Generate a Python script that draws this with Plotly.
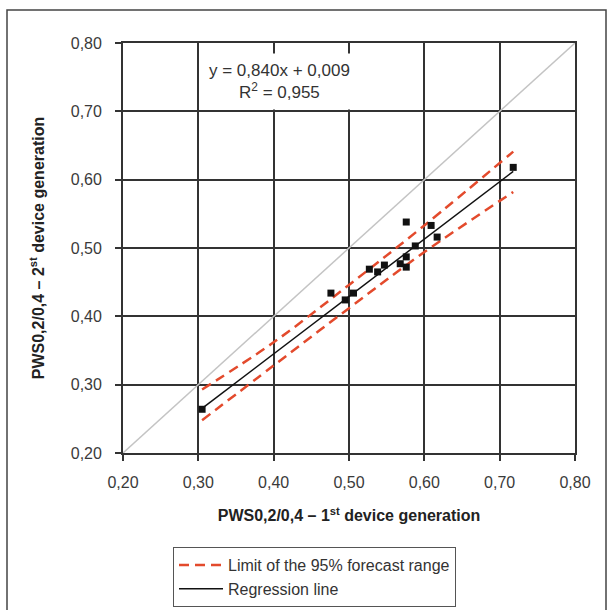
import plotly.graph_objects as go

# ---- data ----
meas_x = [0.305, 0.476, 0.495, 0.506, 0.527, 0.538, 0.547, 0.568, 0.576, 0.576, 0.576, 0.588, 0.609, 0.617, 0.718]
meas_y = [0.264, 0.434, 0.424, 0.434, 0.469, 0.465, 0.475, 0.477, 0.472, 0.487, 0.538, 0.503, 0.533, 0.516, 0.618]

reg_x = [0.305, 0.718]
slope = 0.840
intercept = 0.009
reg_y = [slope * v + intercept for v in reg_x]

lim_x = [0.305, 0.40, 0.50, 0.60, 0.718]
lim_upper = [0.293, 0.362, 0.446, 0.533, 0.641]
lim_lower = [0.248, 0.328, 0.412, 0.494, 0.582]

diag = [0.20, 0.80]

tick_vals = [0.20, 0.30, 0.40, 0.50, 0.60, 0.70, 0.80]
tick_text = ["0,20", "0,30", "0,40", "0,50", "0,60", "0,70", "0,80"]

RED = "#E34A2C"
FONT = "Liberation Sans, Arial, sans-serif"

fig = go.Figure()

fig.add_trace(go.Scatter(x=diag, y=diag, mode="lines",
                         line=dict(color="#c4c4c4", width=1.5),
                         showlegend=False, hoverinfo="skip"))

fig.add_trace(go.Scatter(x=lim_x, y=lim_upper, mode="lines",
                         line=dict(color=RED, width=2.5, dash="10px,6px", shape="spline"),
                         name="Limit of the 95% forecast range", legendgroup="lim"))
fig.add_trace(go.Scatter(x=lim_x, y=lim_lower, mode="lines",
                         line=dict(color=RED, width=2.5, dash="10px,6px", shape="spline"),
                         name="Limit of the 95% forecast range", legendgroup="lim",
                         showlegend=False))

fig.add_trace(go.Scatter(x=reg_x, y=reg_y, mode="lines",
                         line=dict(color="#111111", width=1.5),
                         name="Regression line"))

fig.add_trace(go.Scatter(x=meas_x, y=meas_y, mode="markers",
                         marker=dict(symbol="square", size=7, color="#111111"),
                         showlegend=False))

axis_common = dict(
    tickvals=tick_vals, ticktext=tick_text,
    showgrid=True, gridcolor="#333333", gridwidth=1.8,
    showline=True, linecolor="#333333", linewidth=1.8, mirror=True,
    ticks="outside", ticklen=6, tickcolor="#333333", tickwidth=1.8,
    zeroline=False, automargin=False,
    tickfont=dict(family=FONT, size=16, color="#3a3a3a"),
)

fig.update_xaxes(range=[0.20, 0.80], **axis_common, ticklabelstandoff=8,
                 title=dict(text="<b>PWS0,2/0,4 – 1<sup>st</sup> device generation</b>",
                            font=dict(family=FONT, size=16, color="#222222"),
                            standoff=20))
fig.update_yaxes(range=[0.20, 0.80], **axis_common, ticklabelstandoff=10,
                 title=dict(text="<b>PWS0,2/0,4 – 2<sup>st</sup> device generation</b>",
                            font=dict(family=FONT, size=16, color="#222222"),
                            standoff=22))

fig.add_annotation(x=0.408, y=0.743, xref="x", yref="y",
                   text="y = 0,840x + 0,009<br>R<sup>2</sup> = 0,955",
                   showarrow=False, bgcolor="white", borderpad=7,
                   font=dict(family=FONT, size=17, color="#333333"))

# outer frame
fig.add_shape(type="rect", xref="paper", yref="paper",
              x0=(7 - 123) / 452, x1=(606 - 123) / 452,
              y0=(453 - 612) / 410, y1=(453 - 10) / 410,
              line=dict(color="#444444", width=1.5), layer="below")

fig.update_layout(
    width=608, height=610,
    margin=dict(l=123, r=33, t=43, b=157, autoexpand=False),
    paper_bgcolor="white", plot_bgcolor="white",
    font=dict(family=FONT, size=16, color="#333333"),
    showlegend=True,
    legend=dict(x=(173 - 123) / 452, y=(453 - 547) / 410, xanchor="left", yanchor="top",
                bordercolor="#555555", borderwidth=1, bgcolor="white",
                font=dict(family=FONT, size=16, color="#333333"),
                itemwidth=44, tracegroupgap=0),
)

fig.write_html("out.html")
